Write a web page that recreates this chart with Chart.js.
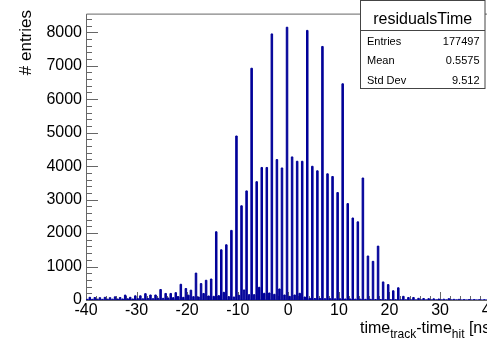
<!DOCTYPE html>
<html><head><meta charset="utf-8">
<script src="https://cdn.jsdelivr.net/npm/chart.js@4/dist/chart.umd.min.js"></script>
<style>
html,body{margin:0;padding:0;background:#fff;overflow:hidden;width:487px;height:339px}
canvas{display:block}
</style></head>
<body><canvas id="c" width="520" height="339"></canvas>
<script>
// ---- data ----
const histName = 'residualsTime';
const statLabels = ['Entries', 'Mean', 'Std Dev'];
const statValues = ['177497', '0.5575', '9.512'];
const yTitle = '# entries';
const xTitleParts = [['time', false], ['track', true], ['-time', false], ['hit', true], [' [ns]', false]];
const xMin = -40, xMax = 40;
const yMax = 8557;
const xTickLabels = [-40, -30, -20, -10, 0, 10, 20, 30, 40];
const yTickLabels = [0, 1000, 2000, 3000, 4000, 5000, 6000, 7000, 8000];

// counts of the spikes at integer times, t = -40 ... 39
const mainStart = -40;
const mainCounts = [
  40, 80, 75, 70, 80, 70, 95, 75, 147, 80,
  125, 125, 190, 150, 150, 314, 196, 196, 220, 470,
  343, 294, 804, 490, 590, 627, 2039, 1500, 1650, 2080,
  4900, 2815, 3260, 6925, 3535, 3960, 3960, 7950, 4195, 3945,
  8150, 4275, 4145, 4145, 8055, 3995, 3860, 7575, 3770, 3690,
  3210, 6460, 2880, 2450, 2335, 3645, 1315, 1155, 1610, 540,
  460, 275, 365, 110, 75, 75, 50, 45, 40, 35,
  30, 25, 40, 20, 20, 15, 15, 15, 10, 10
];
// counts of the small bins at half-integer times, t = -39.5 ... 39.5
const halfStart = -39.5;
const halfCounts = [
  20, 20, 25, 20, 25, 25, 30, 30, 35, 30,
  40, 35, 45, 40, 50, 50, 60, 70, 100, 80,
  145, 100, 90, 195, 120, 110, 130, 230, 100, 90,
  140, 300, 160, 160, 380, 200, 210, 170, 330, 150,
  110, 150, 200, 90, 50, 45, 45, 40, 40, 35,
  35, 30, 30, 25, 25, 20, 20, 15, 15, 10,
  10, 10, 8, 8, 6, 6, 5, 5, 5, 5,
  4, 4, 4, 4, 3, 3, 3, 3, 2, 2
];

// ---- histogram outline table built from the arrays ----
const peaks = [];
mainCounts.forEach((v, i) => peaks.push({ t: mainStart + i, v }));
halfCounts.forEach((v, i) => peaks.push({ t: halfStart + i, v }));
peaks.sort((a, b) => a.t - b.t);
const hw = 0.1;
const table = [];
peaks.forEach(p => { table.push({ x: p.t - hw, y: p.v }); table.push({ x: p.t + hw, y: 0 }); });
table.push({ x: xMax, y: 0 });

const FONT = "'Liberation Sans', Arial, Helvetica, sans-serif";
const HIST = '#000099';

const frame = {
  id: 'frame',
  beforeDatasetsDraw(chart) {
    const { ctx, chartArea: a, scales: { x, y } } = chart;
    ctx.save();
    ctx.strokeStyle = '#666';
    ctx.lineWidth = 1;
    ctx.beginPath();
    ctx.moveTo(a.left + 0.5, a.bottom + 0.5);
    ctx.lineTo(a.left + 0.5, a.top + 0.5);
    ctx.lineTo(a.right, a.top + 0.5);
    ctx.moveTo(a.left, a.bottom + 0.5);
    ctx.lineTo(a.right, a.bottom + 0.5);
    const yStep = yTickLabels[1] - yTickLabels[0];
    for (let v = 0; v <= yMax; v += yStep / 5) {
      const py = Math.round(y.getPixelForValue(v)) + 0.5;
      const len = (v % yStep === 0) ? 12 : 6;
      ctx.moveTo(a.left, py); ctx.lineTo(a.left + len, py);
    }
    const xStep = xTickLabels[1] - xTickLabels[0];
    for (let t = xMin; t <= xMax; t += xStep / 5) {
      const px = Math.round(x.getPixelForValue(t)) + 0.5;
      const len = (t % xStep === 0) ? 8 : 4;
      ctx.moveTo(px, a.bottom); ctx.lineTo(px, a.bottom - len);
    }
    ctx.stroke();
    ctx.restore();
  },
  afterDraw(chart) {
    const { ctx } = chart;
    ctx.save();
    ctx.fillStyle = '#000';
    // y title
    ctx.save();
    ctx.translate(31, 10);
    ctx.rotate(-Math.PI / 2);
    ctx.font = '17px ' + FONT;
    ctx.textAlign = 'right';
    ctx.textBaseline = 'alphabetic';
    ctx.fillText(yTitle, 0, 0);
    ctx.restore();
    // x title
    let cx = 360;
    ctx.textAlign = 'left';
    ctx.textBaseline = 'alphabetic';
    xTitleParts.forEach(([txt, sub]) => {
      ctx.font = (sub ? '12px ' : '16px ') + FONT;
      ctx.fillText(txt, cx, sub ? 338 : 333);
      cx += ctx.measureText(txt).width;
    });
    // stats box
    const bx = 360.5, by = 0.5, bw = 124.5, bh = 88;
    ctx.fillStyle = '#fff';
    ctx.fillRect(bx, by, bw, bh);
    ctx.strokeStyle = '#444';
    ctx.lineWidth = 1;
    ctx.strokeRect(bx, by, bw, bh);
    ctx.beginPath();
    ctx.moveTo(bx, 30.5); ctx.lineTo(bx + bw, 30.5);
    ctx.stroke();
    ctx.fillStyle = '#000';
    ctx.font = '16px ' + FONT;
    ctx.textAlign = 'center';
    ctx.fillText(histName, bx + bw / 2, 24);
    ctx.font = '11px ' + FONT;
    const rowsY = [44.5, 64, 83.5];
    statLabels.forEach((l, i) => {
      ctx.textAlign = 'left';
      ctx.fillText(l, 367, rowsY[i]);
      ctx.textAlign = 'right';
      ctx.fillText(statValues[i], 479.5, rowsY[i]);
    });
    ctx.restore();
  }
};

new Chart(document.getElementById('c'), {
  type: 'line',
  data: {
    datasets: [{
      data: table,
      stepped: 'after',
      borderColor: HIST,
      backgroundColor: HIST,
      borderWidth: 1,
      pointRadius: 0,
      fill: 'origin',
      tension: 0
    }]
  },
  options: {
    responsive: false,
    animation: false,
    devicePixelRatio: 1,
    parsing: false,
    layout: { padding: { top: 9, right: 520 - 490.6, left: 0, bottom: 0 } },
    plugins: { legend: { display: false }, tooltip: { enabled: false } },
    scales: {
      x: {
        type: 'linear', min: xMin, max: xMax,
        grid: { display: false, drawTicks: false },
        border: { display: false },
        afterBuildTicks: s => { s.ticks = xTickLabels.map(v => ({ value: v })); },
        ticks: {
          maxRotation: 0, autoSkip: false,
          padding: 1, color: '#000', font: { family: FONT, size: 16 },
          callback: v => String(v)
        },
        afterFit: s => { s.height = 39; }
      },
      y: {
        type: 'linear', min: 0, max: yMax,
        grid: { display: false, drawTicks: false },
        border: { display: false },
        afterBuildTicks: s => { s.ticks = yTickLabels.map(v => ({ value: v })); },
        ticks: {
          autoSkip: false,
          padding: 4, color: '#000', font: { family: FONT, size: 16 },
          callback: v => String(v)
        },
        afterFit: s => { s.width = 86; }
      }
    }
  },
  plugins: [frame]
});
</script>
</body></html>
